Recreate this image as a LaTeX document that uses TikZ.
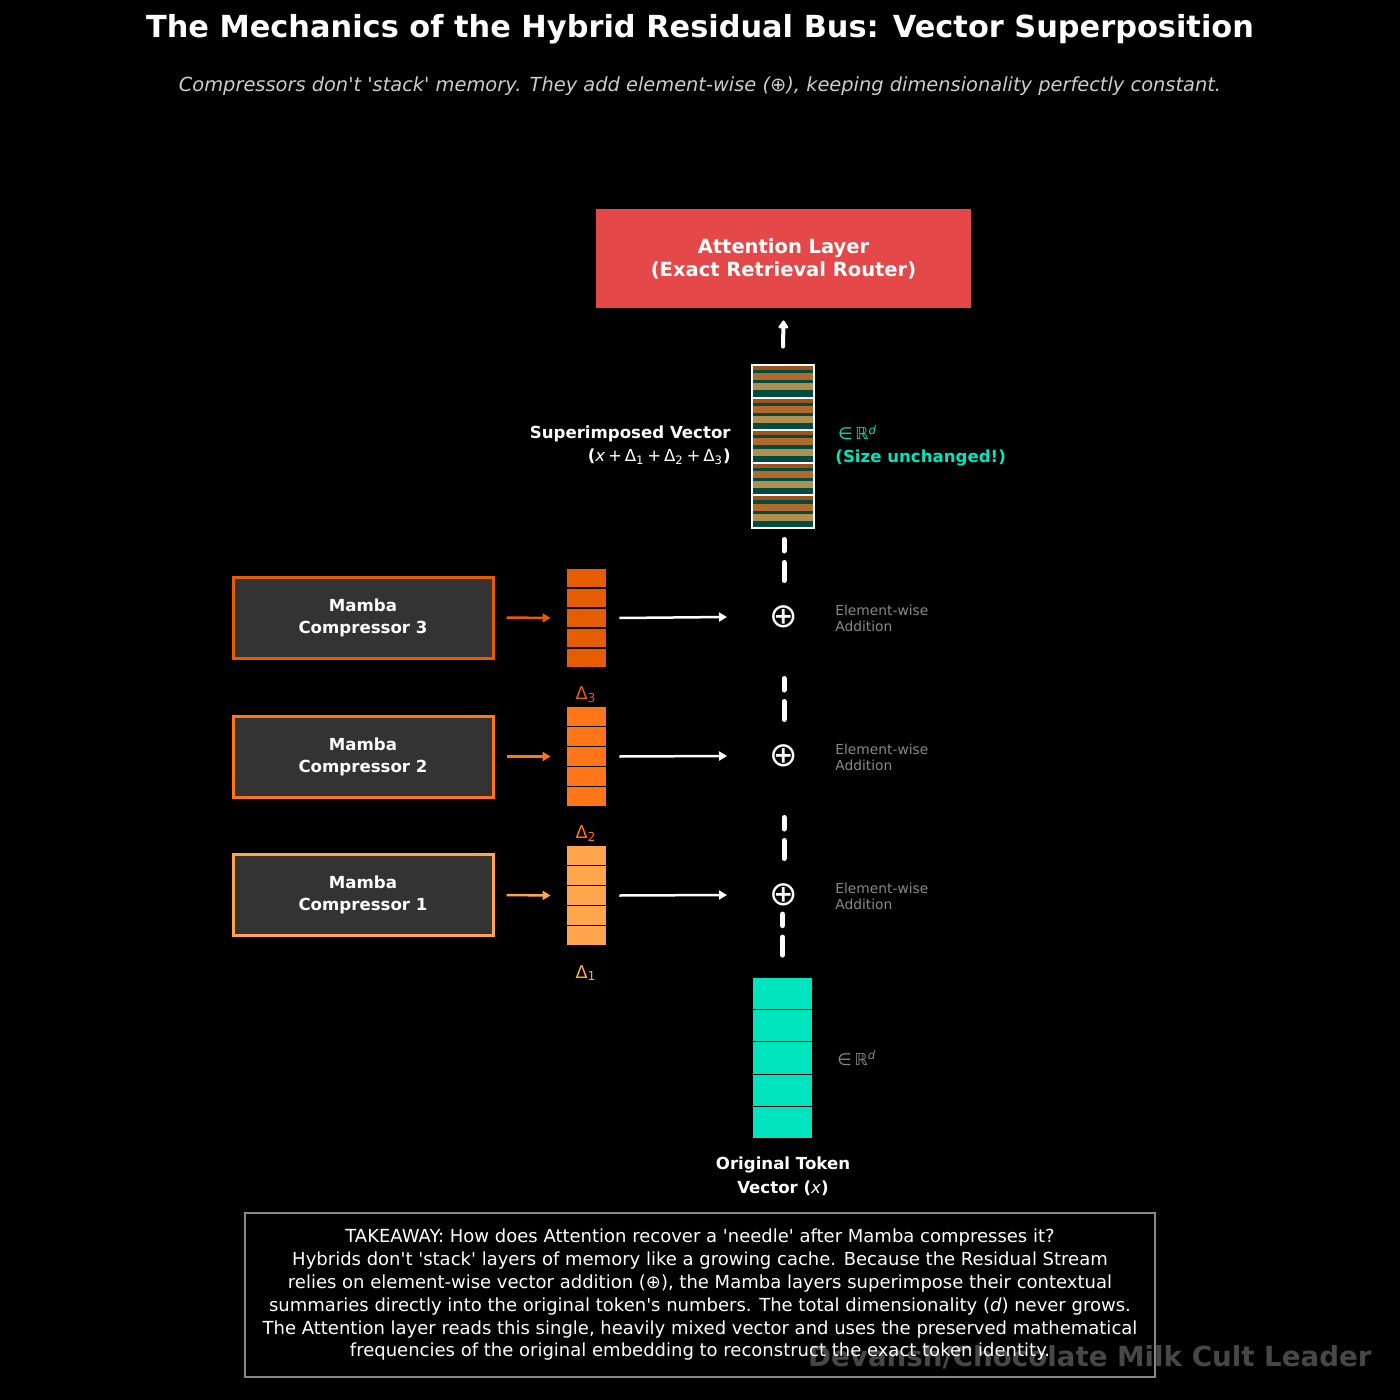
\documentclass[tikz,border=0pt]{standalone}
\usepackage{fontspec}
\setmainfont{DejaVu Sans}[Ligatures=TeXOff]
\usetikzlibrary{arrows.meta}
\definecolor{attn}{HTML}{E54848}
\definecolor{cthree}{HTML}{E65C00}
\definecolor{ctwo}{HTML}{FF7518}
\definecolor{cone}{HTML}{FFA64D}
\definecolor{tealc}{HTML}{00E5BD}
\definecolor{boxfill}{HTML}{333333}
\definecolor{sbrown}{HTML}{A0521C}
\definecolor{sorange}{HTML}{B3682C}
\definecolor{stan}{HTML}{B08E50}
\definecolor{sgreen}{HTML}{004D40}
\definecolor{subgray}{HTML}{CCCCCC}
\definecolor{lblgray}{HTML}{888888}
\definecolor{wmgray}{HTML}{474747}
\tikzset{
  txt/.style={text=white, inner sep=0pt},
  mamba/.style={draw=#1, fill=boxfill, line width=1.5pt, minimum width=130pt, minimum height=40.5pt,
    text=white, font=\fontsize{8.3}{11}\selectfont\bfseries, align=center},
  feedarrow/.style={draw=#1, line width=1.25pt, -{Triangle[length=4pt,width=4.5pt]}},
  addarrow/.style={draw=white, line width=1.25pt, -{Triangle[length=4pt,width=4.5pt]}},
  dashseg/.style={draw=white, line width=2.5pt, line cap=round, dash pattern=on 9pt off 5.75pt},
  plusnode/.style={text=white, font=\fontsize{17}{18}\selectfont, inner sep=0pt},
  ewlabel/.style={text=lblgray, font=\fontsize{6.9}{8}\selectfont, align=left, anchor=west, inner sep=0pt},
  dlabel/.style={text=#1, font=\fontsize{8.8}{10}\selectfont, inner sep=0pt},
  vecbox/.style={minimum width=20.5pt, minimum height=50pt, inner sep=0pt},
}
\begin{document}
\begin{tikzpicture}[x=0.5pt,y=-0.5pt]
\fill[black] (0,0) rectangle (1400,1400);
\useasboundingbox (0,0) rectangle (1400,1400);

% titles
\node[txt, font=\fontsize{15.2}{18}\selectfont\bfseries] (title) at (700,29) {The Mechanics of the Hybrid Residual Bus: Vector Superposition};
\node[txt, text=subgray, font=\fontsize{9.7}{12}\selectfont\itshape] (subtitle) at (700,86) {Compressors don't 'stack' memory. They add element-wise (⊕), keeping dimensionality perfectly constant.};

% attention layer
\node[fill=attn, minimum width=187.5pt, minimum height=49.5pt, text=white, align=center,
  font=\fontsize{9.75}{11.5}\selectfont\bfseries] (attn) at (783.5,258.5) {Attention Layer\\(Exact Retrieval Router)};

% superimposed vector
\node[minimum width=31pt, minimum height=81.5pt, inner sep=0pt] (sup) at (783,446.5) {};
\foreach \i in {0,...,4}{
  \pgfmathsetmacro{\t}{365+\i*32.6}
  \fill[sbrown]  (752,\t) rectangle (814,\t+5);
  \fill[sgreen]  (752,\t+5) rectangle (814,\t+8.2);
  \fill[sorange] (752,\t+8.2) rectangle (814,\t+15.3);
  \fill[sgreen]  (752,\t+15.3) rectangle (814,\t+18.4);
  \fill[stan]    (752,\t+18.4) rectangle (814,\t+25.4);
  \fill[sgreen]  (752,\t+25.4) rectangle (814,\t+32.6);
  \draw[white, line width=1pt] (752,\t) rectangle (814,\t+32.6);
}
\draw[white, line width=2pt, line cap=round, -{Triangle[length=4.5pt,width=5.5pt,round]}] ([yshift=9pt]sup.north) -- ([yshift=-6pt]attn.south);

\node[txt, anchor=east, align=right, font=\fontsize{8.3}{11.5}\selectfont] (suplbl) at (731,445)
  {\bfseries Superimposed Vector\\\textbf{(}\textit{x}\,+\,Δ\textsubscript{1}\,+\,Δ\textsubscript{2}\,+\,Δ\textsubscript{3}\textbf{)}};
\node[txt, text=tealc, anchor=west, align=left, font=\fontsize{8.3}{11.5}\selectfont] (suprd) at (835,446)
  {\,∈\,ℝ\textsuperscript{\itshape d}\\\bfseries (Size unchanged!)};

% compressors
\node[mamba=cthree] (m3) at (363,617.5) {Mamba\\Compressor 3};
\node[mamba=ctwo]   (m2) at (363,756.5) {Mamba\\Compressor 2};
\node[mamba=cone]   (m1) at (363,895)   {Mamba\\Compressor 1};

% delta vectors
\foreach \n/\c/\y in {d3/cthree/618, d2/ctwo/756.5, d1/cone/895.5}{
  \node[vecbox] (\n) at (586.5,\y) {};
  \foreach \k in {0,...,4}{
    \draw[fill=\c, draw=black, line width=0.6pt] (566,\y-50+\k*20) rectangle (607,\y-30+\k*20);
  }
}
\node[dlabel=cthree] (dl3) at (586,695) {Δ\textsubscript{3}};
\node[dlabel=ctwo]   (dl2) at (586,834) {Δ\textsubscript{2}};
\node[dlabel=cone]   (dl1) at (586,973) {Δ\textsubscript{1}};

\draw[feedarrow=cthree] ([xshift=6pt]m3.east) -- ([xshift=-7.5pt]d3.west);
\draw[feedarrow=ctwo]   ([xshift=6pt]m2.east) -- ([xshift=-7.5pt]d2.west);
\draw[feedarrow=cone]   ([xshift=6pt]m1.east) -- ([xshift=-7.5pt]d1.west);

% plus nodes
\node[plusnode] (p3) at (784,617) {⊕};
\node[plusnode] (p2) at (784,756) {⊕};
\node[plusnode] (p1) at (784,895) {⊕};
\node[ewlabel] (e3) at (835,618) {Element-wise\\Addition};
\node[ewlabel] (e2) at (835,757) {Element-wise\\Addition};
\node[ewlabel] (e1) at (835,896) {Element-wise\\Addition};

\draw[addarrow] ([xshift=6pt]d3.east) -- ([xshift=-28.5pt]p3.center);
\draw[addarrow] ([xshift=6pt]d2.east) -- ([xshift=-28.5pt]p2.center);
\draw[addarrow] ([xshift=6pt]d1.east) -- ([xshift=-28.5pt]p1.center);

% original vector
\node[minimum width=30.5pt, minimum height=81pt, inner sep=0pt] (orig) at (782.5,1058) {};
\foreach \k in {0,...,4}{
  \draw[fill=tealc, draw=black, line width=0.6pt] (752,977+\k*32.4) rectangle (813,1009.4+\k*32.4);
}
\node[txt, text=lblgray, anchor=west, font=\fontsize{8.3}{10}\selectfont] (origrd) at (837,1058) {∈\,ℝ\textsuperscript{\itshape d}};
\node[txt, align=center, font=\fontsize{8.3}{12}\selectfont\bfseries] (origlbl) at (783,1176) {Original Token\\Vector (\textit{\mdseries x})};

% dashed residual stream
\draw[dashseg] ([yshift=10.75pt]orig.north) -- ([yshift=31.25pt]orig.north);
\draw[dashseg] ([yshift=18.25pt]p1.center) -- ([yshift=38.75pt]p1.center);
\draw[dashseg] ([yshift=18.25pt]p2.center) -- ([yshift=38.75pt]p2.center);
\draw[dashseg] ([yshift=18.25pt]p3.center) -- ([yshift=38.75pt]p3.center);

% takeaway
\node[draw=lblgray, line width=0.6pt, fill=black, minimum width=455pt, minimum height=82pt] (take) at (700,1295) {};
\node[txt, text=wmgray, anchor=east, font=\fontsize{13.85}{16}\selectfont\bfseries] (wm) at (1372,1357) {Devansh/Chocolate Milk Cult Leader};
\node[txt, align=center, font=\fontsize{9}{11.4}\selectfont] (taketxt) at (700,1295) {TAKEAWAY: How does Attention recover a 'needle' after Mamba compresses it?\\
Hybrids don't 'stack' layers of memory like a growing cache. Because the Residual Stream\\
relies on element-wise vector addition (⊕), the Mamba layers superimpose their contextual\\
summaries directly into the original token's numbers. The total dimensionality (\textit{d}) never grows.\\
The Attention layer reads this single, heavily mixed vector and uses the preserved mathematical\\
frequencies of the original embedding to reconstruct the exact token identity.};
\end{tikzpicture}
\end{document}
